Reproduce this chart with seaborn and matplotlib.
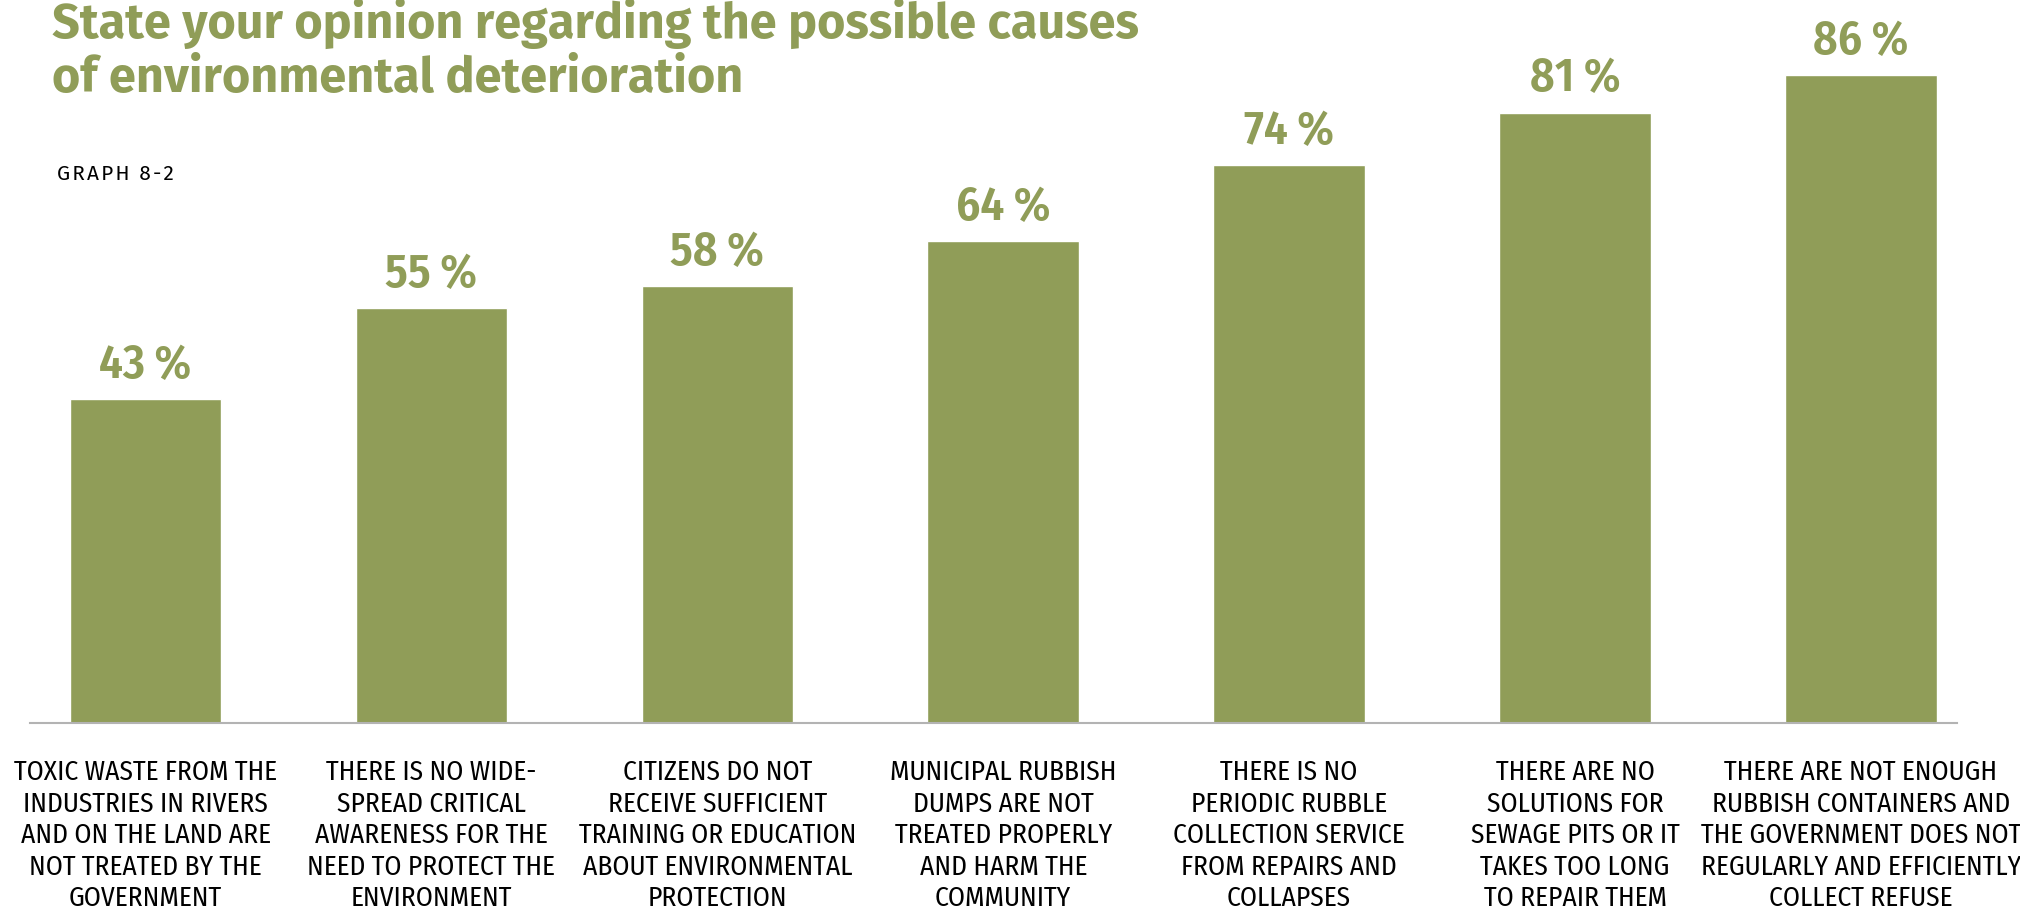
import matplotlib
matplotlib.use("Agg")
import matplotlib.pyplot as plt
import seaborn as sns

categories = [
    "TOXIC WASTE FROM THE\nINDUSTRIES IN RIVERS\nAND ON THE LAND ARE\nNOT TREATED BY THE\nGOVERNMENT",
    "THERE IS NO WIDE-\nSPREAD CRITICAL\nAWARENESS FOR THE\nNEED TO PROTECT THE\nENVIRONMENT",
    "CITIZENS DO NOT\nRECEIVE SUFFICIENT\nTRAINING OR EDUCATION\nABOUT ENVIRONMENTAL\nPROTECTION",
    "MUNICIPAL RUBBISH\nDUMPS ARE NOT\nTREATED PROPERLY\nAND HARM THE\nCOMMUNITY",
    "THERE IS NO\nPERIODIC RUBBLE\nCOLLECTION SERVICE\nFROM REPAIRS AND\nCOLLAPSES",
    "THERE ARE NO\nSOLUTIONS FOR\nSEWAGE PITS OR IT\nTAKES TOO LONG\nTO REPAIR THEM",
    "THERE ARE NOT ENOUGH\nRUBBISH CONTAINERS AND\nTHE GOVERNMENT DOES NOT\nREGULARLY AND EFFICIENTLY\nCOLLECT REFUSE",
]
values = [43, 55, 58, 64, 74, 81, 86]
value_labels = [f"{v}\u2009%" for v in values]

title_lines = ["State your opinion regarding the possible causes",
               "of environmental deterioration"]
graph_tag = "GRAPH 8-2"

GREEN = "#909d58"
COND = "Fira Sans Condensed"
WIDE = "Fira Sans"

sns.set_theme(style="white")
plt.rcParams["font.family"] = [COND, "DejaVu Sans"]

fig = plt.figure(figsize=(20.2, 9.09), dpi=100)
ax = fig.add_axes([30 / 2020, 1 - 723 / 909, 1927 / 2020, (723 - 44.7) / 909])

sns.barplot(x=list(range(len(values))), y=values, color=GREEN, saturation=1,
            width=0.53, ax=ax, native_scale=True)

ax.set_xlim(-0.404, 6.336)
ax.set_ylim(0, 90)
for side in ("top", "right", "left"):
    ax.spines[side].set_visible(False)
ax.spines["bottom"].set_color("#b3b3b3")
ax.spines["bottom"].set_linewidth(1.5)
ax.set_yticks([])
ax.set_xticks(range(len(values)))
ax.set_xticklabels(categories, fontsize=19.7, color="black", linespacing=1.23)
ax.tick_params(axis="x", length=0, pad=26)
ax.set_xlabel("")
ax.set_ylabel("")

ax.bar_label(ax.containers[0], labels=value_labels, padding=7.5,
             fontsize=34, fontweight=600, color=GREEN)

fig.text(52 / 2020, 1 - 38 / 909, title_lines[0], family=[WIDE, "DejaVu Sans"],
         fontsize=35, fontweight=700, color=GREEN, va="baseline", ha="left")
fig.text(52 / 2020, 1 - 92 / 909, title_lines[1], family=[WIDE, "DejaVu Sans"],
         fontsize=35, fontweight=700, color=GREEN, va="baseline", ha="left")
fig.text(57 / 2020, 1 - 180 / 909, "\u200a".join(graph_tag), fontsize=15,
         color="black", va="baseline", ha="left", family=[WIDE, "DejaVu Sans"])

fig.savefig("out.png", dpi=100)
